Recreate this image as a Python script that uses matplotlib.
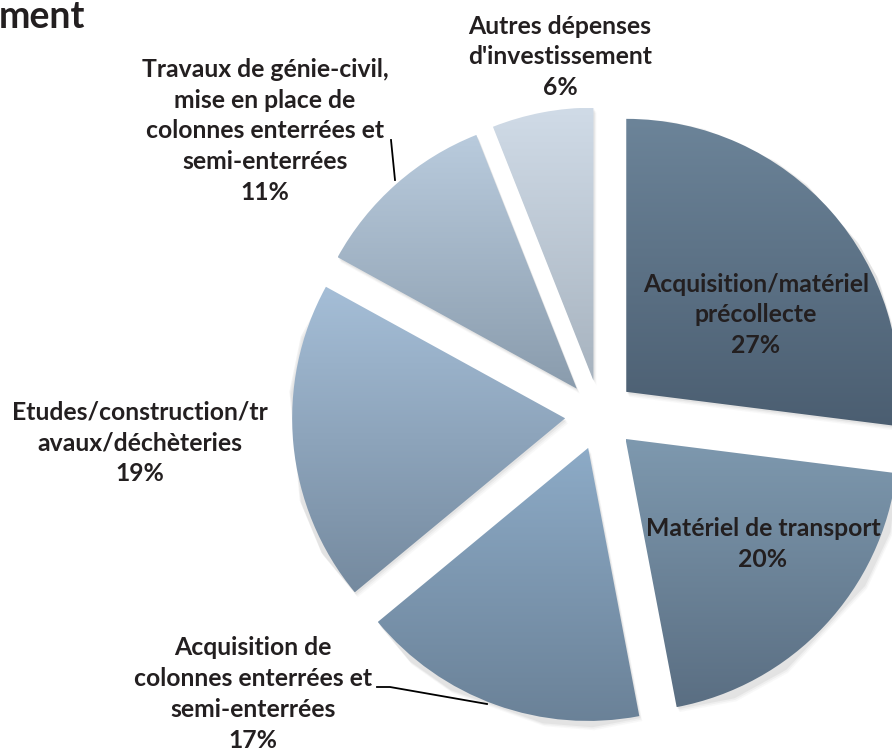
# %%
import numpy as np
import matplotlib.pyplot as plt
import matplotlib.colors as mcolors

# %%
# Investment spending split (%), clockwise from 12 o'clock
categories = [
    "Acquisition/matériel\nprécollecte",
    "Matériel de transport",
    "Acquisition de\ncolonnes enterrées et\nsemi-enterrées",
    "Etudes/construction/tr\navaux/déchèteries",
    "Travaux de génie-civil,\nmise en place de\ncolonnes enterrées et\nsemi-enterrées",
    "Autres dépenses\nd'investissement",
]
shares = [27, 20, 17, 19, 11, 6]

# top / bottom colours of each slice gradient
top_colors = ["#6c8499", "#7e99af", "#8dabc7", "#a5bed7", "#b9cbdd", "#d0dbe7"]
bottom_colors = ["#4b5e71", "#5a6e82", "#6a8197", "#758a9f", "#8a9cad", "#a7b3bf"]

# %%
W, H = 892, 754
fig = plt.figure(figsize=(W / 100, H / 100), dpi=100)
ax = fig.add_axes([0, 0, 1, 1])

center = (600, H - 415)
radius = 273
explode = [35] * len(shares)

wedges, _ = ax.pie(shares, startangle=90, counterclock=False, radius=radius,
                   center=center, explode=explode,
                   wedgeprops=dict(linewidth=0, edgecolor="none"))

# soft drop shadow + vertical gradient fill for each slice
for w, c_top, c_bot in zip(wedges, top_colors, bottom_colors):
    w.set_facecolor("none")
    verts = w.get_path().vertices
    y0, y1 = verts[:, 1].min(), verts[:, 1].max()
    x0, x1 = verts[:, 0].min(), verts[:, 0].max()
    for k, a in [(5, 0.04), (3.5, 0.06), (2, 0.08)]:
        sh = plt.Polygon(verts + [k * 0.6, -k], closed=True,
                         facecolor="#606060", edgecolor="none", alpha=a, zorder=0.5)
        ax.add_patch(sh)
    cmap = mcolors.LinearSegmentedColormap.from_list("g", [c_bot, c_top])
    grad = np.linspace(0, 1, 256).reshape(-1, 1)
    im = ax.imshow(grad, cmap=cmap, origin="lower", aspect="auto",
                   extent=(x0, x1, y0, y1), zorder=1)
    im.set_clip_path(w)

ax.set_xlim(0, W)
ax.set_ylim(0, H)
ax.set_aspect("equal")
ax.axis("off")

font = dict(family="Lato", fontweight="bold", fontsize=17.8, color="#231f20",
            ha="center", va="center", linespacing=1.42, zorder=5)

labels = [f"{c}\n{s}%" for c, s in zip(categories, shares)]
label_pos = [(756, 315), (763, 544), (253, 694), (140, 443), (265, 131), (560, 57)]
for txt, (x, y) in zip(labels, label_pos):
    ax.text(x, H - y, txt, **font)

# leader lines
ax.plot([391, 395], [H - 140, H - 180], color="black", lw=1.3, zorder=4)
ax.plot([377, 390, 487], [H - 687, H - 687, H - 704], color="black", lw=1.3, zorder=4)

# tail of the chart title
ax.text(-1, H - 17, "ment", family="Lato", fontweight="bold", fontsize=27,
        color="#231f20", ha="left", va="center")

fig.savefig("out.png", dpi=100)
